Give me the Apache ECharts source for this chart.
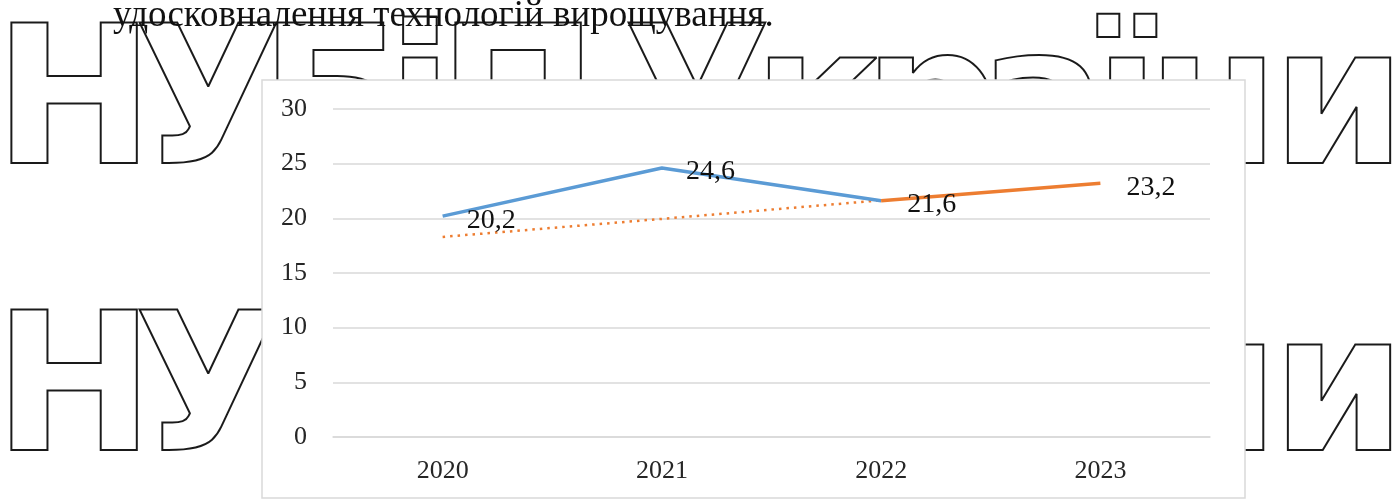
<!DOCTYPE html>
<html>
<head>
<meta charset="utf-8">
<script src="https://cdn.jsdelivr.net/npm/echarts@6/dist/echarts.min.js"></script>
<style>
  html, body { margin: 0; padding: 0; background: #fff; }
  #chart { width: 1394px; height: 502px; }
</style>
</head>
<body>
<div id="chart"></div>
<script>
// values
const years = ["2020", "2021", "2022", "2023"];
const actual = [20.2, 24.6, 21.6, null];
const forecast = [null, null, 21.6, 23.2];
const trend = [18.3, 19.95, 21.65, null];
const yTicks = { min: 0, max: 30, step: 5 };

// watermark letters and their centres (two rows)
const markLetters = ["Н", "У", "Б", "і", "П", "У", "к", "р", "а", "ї", "н", "и"];
const markCentres = [74, 208, 333, 420, 518, 697, 818, 932, 1043, 1127, 1213, 1339];
const markRows = [113, 400];

const headText = "удосковналення технологій вирощування.";

const chart = echarts.init(document.getElementById("chart"));
const fmt = v => v.toFixed(1).replace(".", ",");
const serif = "'Liberation Serif', 'Times New Roman', serif";

const watermark = markRows.flatMap(y => markLetters.map((ch, i) => ({
  type: "text",
  z: -20,
  x: markCentres[i],
  y,
  style: {
    text: ch,
    font: "bold 192px 'DejaVu Sans'",
    fill: "rgba(0,0,0,0)",
    stroke: "#1a1a1a",
    lineWidth: 2,
    lineJoin: "round",
    align: "center",
    verticalAlign: "middle",
  },
})));

const labelStyle = (distance) => ({
  position: "right", distance, offset: [0, 4],
  fontSize: 28, fontFamily: serif, color: "#111",
  formatter: p => fmt(p.value),
});

chart.setOption({
  animation: false,
  graphic: [
    ...watermark,
    { type: "rect", z: -10, shape: { x: 262, y: 80, width: 983, height: 418 },
      style: { fill: "#fff", stroke: "#d9d9d9", lineWidth: 1.5 } },
    { type: "text", z: 5, x: 113, y: 35,
      style: { text: headText, font: `37px ${serif}`, fill: "#111", verticalAlign: "bottom" } },
  ],
  grid: { left: 333, right: 184, top: 109, bottom: 65 },
  xAxis: {
    type: "category",
    data: years,
    axisTick: { show: false },
    axisLine: { lineStyle: { color: "#d9d9d9", width: 1.5 } },
    axisLabel: { margin: 21, fontSize: 26, fontFamily: serif, color: "#262626" },
  },
  yAxis: {
    type: "value",
    min: yTicks.min,
    max: yTicks.max,
    interval: yTicks.step,
    axisLine: { show: false },
    axisLabel: { margin: 26, fontSize: 26, fontFamily: serif, color: "#262626" },
    splitLine: { lineStyle: { color: "#d9d9d9", width: 1.5 } },
  },
  series: [
    {
      type: "line", data: trend, symbol: "none", z: 2,
      lineStyle: { color: "#ED7D31", width: 2.5, type: [2.5, 5] },
    },
    {
      type: "line", z: 3, symbol: "circle", symbolSize: 0, showSymbol: true,
      itemStyle: { color: "#5B9BD5" },
      lineStyle: { color: "#5B9BD5", width: 3.5 },
      data: actual.map((v, i) => ({ value: v, label: { show: v != null && forecast[i] == null } })),
      label: labelStyle(24),
    },
    {
      type: "line", z: 3, symbol: "circle", symbolSize: 0, showSymbol: true,
      itemStyle: { color: "#ED7D31" },
      lineStyle: { color: "#ED7D31", width: 3.5 },
      data: forecast.map(v => ({ value: v, label: { show: v != null } })),
      label: labelStyle(26),
    },
  ],
});
</script>
</body>
</html>
